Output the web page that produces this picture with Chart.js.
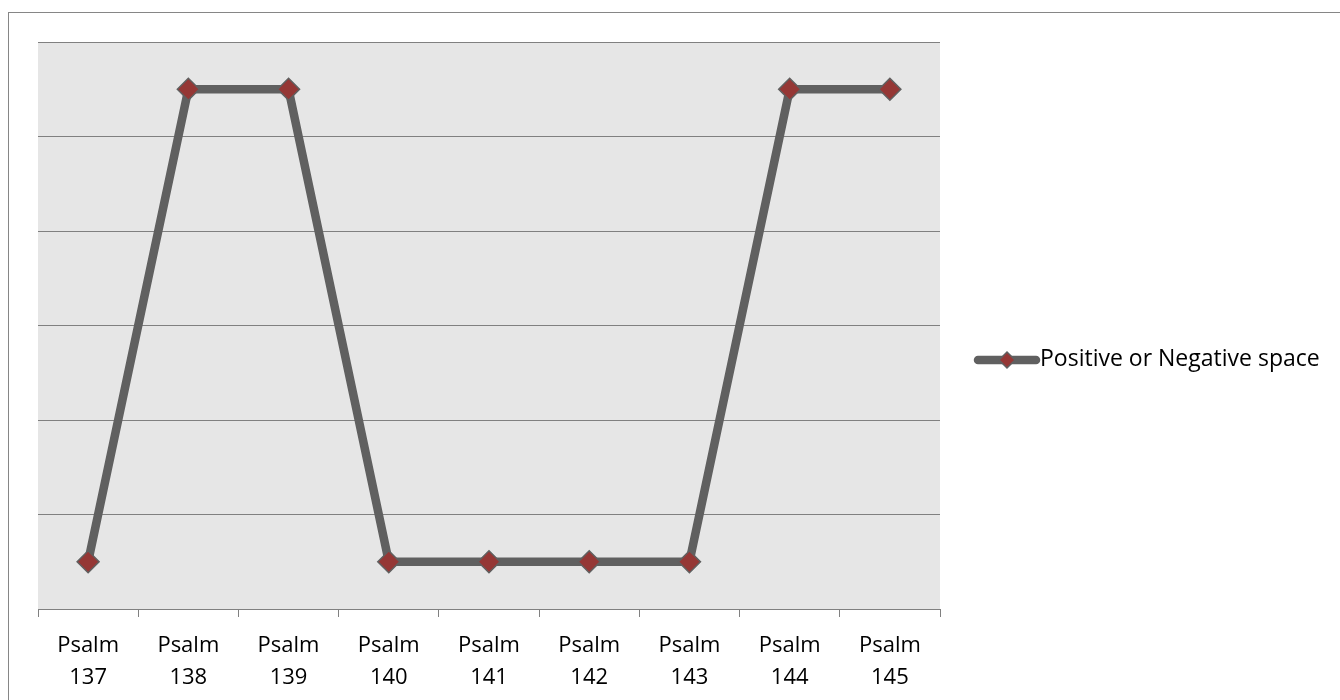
<!DOCTYPE html>
<html>
<head>
<meta charset="utf-8">
<script src="https://cdn.jsdelivr.net/npm/chart.js@4/dist/chart.umd.min.js"></script>
<style>
  html, body { margin: 0; padding: 0; background: #fff; overflow: hidden; }
  #frame {
    position: absolute; left: 8px; top: 12px; width: 1400px; height: 720px;
    border-left: 1px solid #868686; border-top: 1px solid #868686;
  }
  #wrap { position: absolute; left: 0; top: 0; width: 1340px; height: 700px; }
</style>
</head>
<body>
<div id="frame"></div>
<div id="wrap"><canvas id="chart"></canvas></div>
<script>
// chart data
const categories = [['Psalm', '137'], ['Psalm', '138'], ['Psalm', '139'], ['Psalm', '140'], ['Psalm', '141'],
  ['Psalm', '142'], ['Psalm', '143'], ['Psalm', '144'], ['Psalm', '145']];
const seriesName = 'Positive or Negative space';
const spaceValues = [-1, 1, 1, -1, -1, -1, -1, 1, 1];
const yMin = -1.2;
const yMax = 1.2;
const yStep = 0.4;

const FONT = '"Open Sans", "Noto Sans", sans-serif';
const LINE_COLOR = '#606060';
const MARKER_COLOR = '#953735';

// grey plot background
const plotBackground = {
  id: 'plotBackground',
  beforeDraw(chart) {
    const { ctx, chartArea: a } = chart;
    ctx.save();
    ctx.fillStyle = '#e6e6e6';
    ctx.fillRect(a.left, a.top, a.right - a.left, a.bottom - a.top);
    ctx.restore();
  }
};

// legend drawn like the office one: thick line with a diamond in the middle
const sideLegend = {
  id: 'sideLegend',
  afterDraw(chart) {
    const { ctx } = chart;
    const ds = chart.data.datasets[0];
    const y = 360, x0 = 978, x1 = 1036;
    const cx = (x0 + x1) / 2, r = 8;
    ctx.save();
    ctx.strokeStyle = ds.borderColor;
    ctx.lineWidth = ds.borderWidth;
    ctx.lineCap = 'round';
    ctx.beginPath();
    ctx.moveTo(x0, y);
    ctx.lineTo(x1, y);
    ctx.stroke();
    ctx.fillStyle = ds.pointBackgroundColor;
    ctx.strokeStyle = ds.pointBorderColor;
    ctx.lineWidth = ds.pointBorderWidth;
    ctx.beginPath();
    ctx.moveTo(cx, y - r); ctx.lineTo(cx + r, y); ctx.lineTo(cx, y + r); ctx.lineTo(cx - r, y); ctx.closePath();
    ctx.fill(); ctx.stroke();
    ctx.fillStyle = '#000';
    ctx.font = '23px ' + FONT;
    ctx.textBaseline = 'middle';
    ctx.fillText(ds.label, 1040, y - 1);
    ctx.restore();
  }
};

document.addEventListener('DOMContentLoaded', () => {
  const ctx = document.getElementById('chart').getContext('2d');
  new Chart(ctx, {
    type: 'line',
    data: {
      labels: categories,
      datasets: [{
        label: seriesName,
        data: spaceValues,
        borderColor: LINE_COLOR,
        borderWidth: 8.5,
        tension: 0,
        pointStyle: 'rectRot',
        pointRadius: 11,
        pointHoverRadius: 11,
        pointBackgroundColor: MARKER_COLOR,
        pointBorderColor: LINE_COLOR,
        pointBorderWidth: 1.5
      }]
    },
    options: {
      responsive: true,
      maintainAspectRatio: false,
      animation: false,
      layout: { padding: { left: 38, top: 42, right: 400, bottom: 0 } },
      plugins: {
        legend: { display: false },
        tooltip: { enabled: false }
      },
      scales: {
        x: {
          offset: true,
          afterFit: s => { s.height = 91; },
          border: { display: true, color: '#808080', width: 1 },
          grid: { offset: true, drawOnChartArea: false, drawTicks: true, tickLength: 8, color: '#808080' },
          ticks: { color: '#000', padding: 13, maxRotation: 0, autoSkip: false, font: { family: FONT, size: 22, lineHeight: '32px' } }
        },
        y: {
          min: yMin,
          max: yMax,
          afterFit: s => { s.width = 0; },
          border: { display: false },
          grid: { color: '#808080', lineWidth: 1, drawTicks: false },
          ticks: { display: false, stepSize: yStep }
        }
      }
    },
    plugins: [plotBackground, sideLegend]
  });
});
</script>
</body>
</html>
